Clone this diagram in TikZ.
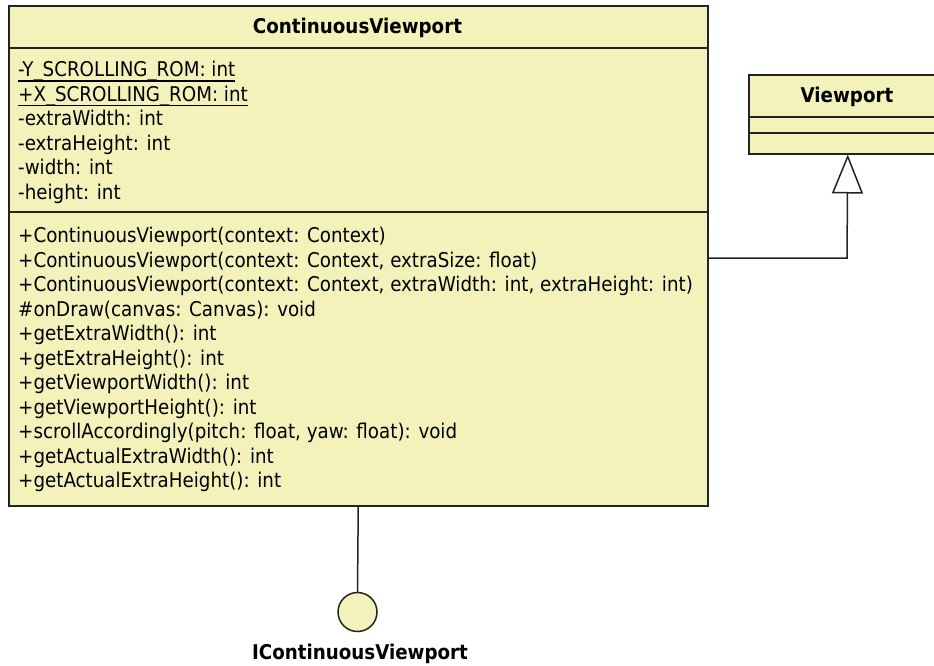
\documentclass[tikz,border=0pt]{standalone}
\usepackage{fontspec}
\setmainfont{DejaVu Sans Condensed}
\usetikzlibrary{arrows.meta}
\definecolor{umlfill}{RGB}{242,242,186}
\definecolor{umlline}{RGB}{35,35,35}
\newcommand\staticline[1]{\setbox0\hbox{#1}\rlap{\vrule height -3.7pt depth 4.9pt width \wd0}\box0}
\tikzset{
  classbox/.style={draw=umlline, fill=umlfill, line width=1.5pt, inner sep=0pt, anchor=north west},
  divider/.style={draw=umlline, line width=1.5pt},
  member/.style={anchor=mid west, inner sep=0pt, font=\fontsize{20.3}{24}\selectfont},
  ctitle/.style={anchor=mid, inner sep=0pt, font=\fontsize{20.3}{24}\selectfont\bfseries},
  conn/.style={draw=umlline, line width=1.5pt},
  gen/.style={conn, -{Triangle[open, length=39pt, width=31pt, line width=1.5pt]}},
  lolli/.style={circle, draw=umlline, fill=umlfill, line width=1.5pt, minimum size=39pt, inner sep=0pt}
}
\begin{document}
\begin{tikzpicture}[x=1pt, y=-1pt]
\clip (0,0) rectangle (934,665);
\fill[white] (0,0) rectangle (934,665);
% ContinuousViewport class
\node[classbox, minimum width=699pt, minimum height=500pt] (cv) at (8,5) {};
\draw[divider] (8,48) -- (707,48);
\draw[divider] (8,212) -- (707,212);
\node[ctitle] (cvtitle) at (357.5,31) {ContinuousViewport};
\node[member] (a1) at (18,74) {\staticline{-Y\_SCROLLING\_ROM: int}};
\node[member] (a2) at (18,98.5) {\staticline{+X\_SCROLLING\_ROM: int}};
\node[member] (a3) at (18,123) {-extraWidth: int};
\node[member] (a4) at (18,147.5) {-extraHeight: int};
\node[member] (a5) at (18,172) {-width: int};
\node[member] (a6) at (18,196.5) {-height: int};
\node[member] (m1) at (18,240) {+ContinuousViewport(context: Context)};
\node[member] (m2) at (18,264.5) {+ContinuousViewport(context: Context, extraSize: float)};
\node[member] (m3) at (18,289) {+ContinuousViewport(context: Context, extraWidth: int, extraHeight: int)};
\node[member] (m4) at (18,313.5) {\#onDraw(canvas: Canvas): void};
\node[member] (m5) at (18,338) {+getExtraWidth(): int};
\node[member] (m6) at (18,362.5) {+getExtraHeight(): int};
\node[member] (m7) at (18,387) {+getViewportWidth(): int};
\node[member] (m8) at (18,411.5) {+getViewportHeight(): int};
\node[member] (m9) at (18,436) {+scrollAccordingly(pitch: float, yaw: float): void};
\node[member] (m10) at (18,460.5) {+getActualExtraWidth(): int};
\node[member] (m11) at (18,485) {+getActualExtraHeight(): int};
% Viewport class
\node[classbox, minimum width=198pt, minimum height=79pt] (vp) at (748,74) {};
\draw[divider] (748,117) -- (946,117);
\draw[divider] (748,133) -- (946,133);
\node[ctitle] (vptitle) at (847,100) {Viewport};
% generalization
\coordinate (bend) at (847,258);
\draw[gen] (cv.east |- bend) -- (bend) -- (vp.south);
% interface lollipop
\node[lolli] (iface) at (357.5,612) {};
\draw[conn] (cv.south) -- (iface.north);
\node[ctitle] (ifacelabel) at (360,657) {IContinuousViewport};
\end{tikzpicture}
\end{document}
